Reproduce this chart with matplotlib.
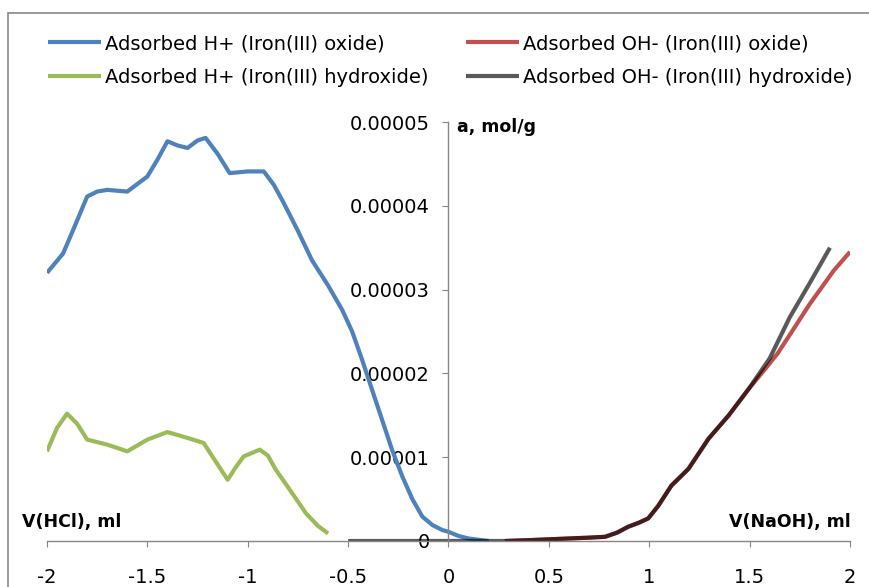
import matplotlib
matplotlib.use("Agg")
import matplotlib.pyplot as plt
from matplotlib.patches import Rectangle

# adsorbed H+ on iron(III) oxide (HCl side)
h_oxide_x = [-2.0, -1.92, -1.87, -1.80, -1.75, -1.70, -1.60, -1.50, -1.45, -1.40, -1.35, -1.30,
             -1.25, -1.21, -1.15, -1.09, -1.0, -0.92, -0.87, -0.82, -0.75, -0.68, -0.60, -0.53,
             -0.48, -0.43, -0.38, -0.33, -0.28, -0.23, -0.18, -0.13, -0.08, -0.03, 0.0, 0.05,
             0.1, 0.2]
h_oxide_y = [3.20, 3.43, 3.71, 4.11, 4.17, 4.19, 4.17, 4.35, 4.55, 4.77, 4.72, 4.69,
             4.78, 4.81, 4.62, 4.39, 4.41, 4.41, 4.25, 4.03, 3.70, 3.35, 3.05, 2.76,
             2.50, 2.16, 1.80, 1.44, 1.08, 0.77, 0.50, 0.29, 0.19, 0.13, 0.11, 0.06,
             0.03, 0.0]

# adsorbed H+ on iron(III) hydroxide
h_hydr_x = [-2.0, -1.95, -1.90, -1.85, -1.80, -1.70, -1.60, -1.50, -1.40, -1.30, -1.22, -1.16,
            -1.10, -1.06, -1.02, -0.94, -0.90, -0.86, -0.79, -0.71, -0.65, -0.60]
h_hydr_y = [1.07, 1.35, 1.52, 1.40, 1.21, 1.15, 1.07, 1.21, 1.30, 1.23, 1.17, 0.95,
            0.73, 0.88, 1.01, 1.09, 1.02, 0.85, 0.61, 0.33, 0.18, 0.09]

# adsorbed OH- on iron(III) oxide (NaOH side)
oh_oxide_x = [0.28, 0.4, 0.5, 0.6, 0.7, 0.78, 0.84, 0.895, 0.95, 0.995, 1.045, 1.11, 1.195,
              1.295, 1.396, 1.497, 1.58, 1.64, 1.70, 1.80, 1.92, 2.0]
oh_oxide_y = [0.0, 0.01, 0.02, 0.03, 0.04, 0.05, 0.10, 0.17, 0.22, 0.27, 0.42, 0.66, 0.86,
              1.22, 1.50, 1.82, 2.06, 2.24, 2.46, 2.83, 3.23, 3.45]

# adsorbed OH- on iron(III) hydroxide
oh_hydr_x = [-0.5, 0.0, 0.28, 0.4, 0.5, 0.6, 0.7, 0.78, 0.84, 0.895, 0.95, 0.995, 1.045, 1.11,
             1.195, 1.295, 1.396, 1.497, 1.60, 1.70, 1.80, 1.90]
oh_hydr_y = [0.0, 0.0, 0.0, 0.01, 0.02, 0.03, 0.04, 0.05, 0.10, 0.17, 0.22, 0.27, 0.42, 0.66,
             0.86, 1.22, 1.50, 1.82, 2.18, 2.67, 3.08, 3.50]

scale = 1e-5
x_ticks = [-2, -1.5, -1, -0.5, 0, 0.5, 1, 1.5, 2]
x_tick_labels = ["-2", "-1.5", "-1", "-0.5", "0", "0.5", "1", "1.5", "2"]
y_ticks = [0, 1e-5, 2e-5, 3e-5, 4e-5, 5e-5]
y_tick_labels = ["0", "0.00001", "0.00002", "0.00003", "0.00004", "0.00005"]

fig = plt.figure(figsize=(8.7, 5.87), dpi=100)
ax = fig.add_axes([47 / 870, 1 - 541 / 587, 803 / 870, 419 / 587])

l1, = ax.plot(h_oxide_x, [v * scale for v in h_oxide_y], color="#4F81BD", lw=3,
              solid_capstyle="butt", label="Adsorbed H+ (Iron(III) oxide)")
l2, = ax.plot(oh_oxide_x, [v * scale for v in oh_oxide_y], color="#C0504D", lw=3,
              solid_capstyle="butt", label="Adsorbed OH- (Iron(III) oxide)")
l3, = ax.plot(h_hydr_x, [v * scale for v in h_hydr_y], color="#9BBB59", lw=3,
              solid_capstyle="butt", label="Adsorbed H+ (Iron(III) hydroxide)")
# black with alpha so the overlap with the red line turns dark maroon like excel
l4, = ax.plot(oh_hydr_x, [v * scale for v in oh_hydr_y], color="black", alpha=0.65, lw=3,
              solid_capstyle="butt", label="Adsorbed OH- (Iron(III) hydroxide)")

ax.set_xlim(-2, 2)
ax.set_ylim(0, 5e-5)
ax.spines["left"].set_position(("data", 0))
ax.spines["top"].set_visible(False)
ax.spines["right"].set_visible(False)
for s in ("left", "bottom"):
    ax.spines[s].set_color("#868686")
    ax.spines[s].set_linewidth(1)

ax.set_xticks(x_ticks)
ax.set_xticklabels(x_tick_labels)
ax.set_yticks(y_ticks)
ax.set_yticklabels(y_tick_labels)
ax.tick_params(axis="x", direction="out", length=4.5, color="#868686", pad=15, labelsize=14)
ax.tick_params(axis="y", direction="out", length=4.5, color="#868686", pad=9, labelsize=14)

ax.text(457 / 870, 1 - 127 / 587, "a, mol/g", transform=fig.transFigure, fontsize=12.5,
        fontweight="bold", ha="left", va="center")
ax.text(22 / 870, 1 - 522 / 587, "V(HCl), ml", transform=fig.transFigure, fontsize=12.5,
        fontweight="bold", ha="left", va="center")
ax.text(851 / 870, 1 - 522 / 587, "V(NaOH), ml", transform=fig.transFigure, fontsize=12.5,
        fontweight="bold", ha="right", va="center")

# two legend columns, placed separately
leg_kw = dict(frameon=False, fontsize=14, handlelength=2.7, handletextpad=0.25,
              labelspacing=0.76, borderpad=0, borderaxespad=0)
leg1 = fig.legend(handles=[l1, l3], loc="upper left", bbox_to_anchor=(48 / 870, 1 - 34 / 587),
                  **leg_kw)
leg2 = fig.legend(handles=[l2, l4], loc="upper left", bbox_to_anchor=(466 / 870, 1 - 34 / 587),
                  **leg_kw)
for leg in (leg1, leg2):
    for h in leg.legend_handles:
        h.set_alpha(1)
leg2.legend_handles[1].set_color("#595959")

fig.patches.append(Rectangle((8 / 870, -0.1), 1.2, 1 - 13 / 587 + 0.1,
                             transform=fig.transFigure, fill=False,
                             edgecolor="#888888", lw=1.2))

fig.savefig("out.png", dpi=100)
